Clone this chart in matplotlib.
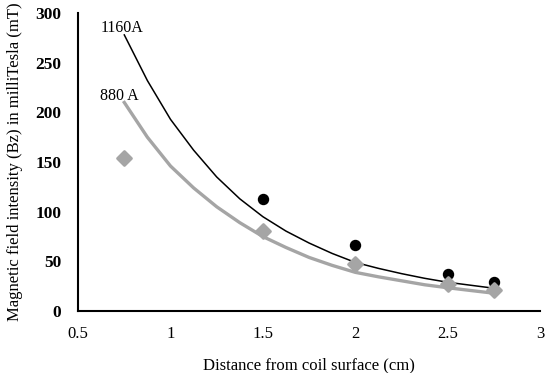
import matplotlib.pyplot as plt
from matplotlib.markers import MarkerStyle

# measured points (the 1160A point at 0.75 cm is hidden under the 880A one)
dist_1160 = [1.5, 2.0, 2.5, 2.75]
bz_1160 = [113, 67, 37, 29]
dist_880 = [0.75, 1.5, 2.0, 2.5, 2.75]
bz_880 = [154, 81, 47, 27, 21]

# trend curves
curve_x = [0.75, 0.875, 1.0, 1.125, 1.25, 1.375, 1.5, 1.625, 1.75,
           1.875, 2.0, 2.125, 2.25, 2.375, 2.5, 2.625, 2.75]
curve_1160 = [278, 232, 193, 162, 135, 113, 95, 80.5, 68.5,
              58, 49, 43, 37.7, 33, 29, 26, 23]
curve_880 = [210, 175, 146, 124, 105, 89, 75, 64, 54,
             46, 39, 34.5, 30.5, 26.5, 23.5, 20.7, 18]

xticks = [0.5, 1, 1.5, 2, 2.5, 3]
xtick_labels = ['0.5', '1', '1.5', '2', '2.5', '3']
yticks = [0, 50, 100, 150, 200, 250, 300]

plt.rcParams['font.family'] = ['Liberation Serif', 'DejaVu Serif']

fig = plt.figure(figsize=(5.5, 3.73), dpi=100)
ax = fig.add_axes([0.142, 0.166, 0.84, 0.799])

grey = '#A5A5A5'

ax.plot(curve_x, curve_880, color=grey, lw=2.4, zorder=2)
ax.plot(curve_x, curve_1160, color='black', lw=1.1, zorder=3)

ax.plot(dist_1160, bz_1160, ls='none', marker='o', markersize=7.2,
        color='black', zorder=4)
ax.plot(dist_880, bz_880, ls='none', marker=MarkerStyle('D', joinstyle='round'),
        markersize=6.8, markeredgewidth=2, color=grey, zorder=5)

ax.text(0.62, 281, '1160A', fontsize=11.5, ha='left', va='baseline')
ax.text(0.62, 212, '880 A', fontsize=11.5, ha='left', va='baseline')

ax.set_xlim(0.5, 3)
ax.set_ylim(0, 300)
ax.set_xticks(xticks)
ax.set_xticklabels(xtick_labels, fontsize=12)
ax.set_yticks(yticks)
ax.set_yticklabels([str(v) for v in yticks], fontsize=12.5, fontweight='bold')
ax.tick_params(axis='x', length=0, pad=11)
ax.tick_params(axis='y', length=0, pad=12)

for side in ['top', 'right']:
    ax.spines[side].set_visible(False)
for side in ['left', 'bottom']:
    ax.spines[side].set_linewidth(1.5)

ax.set_xlabel('Distance from coil surface (cm)', fontsize=12, labelpad=11)
ax.set_ylabel('Magnetic field intensity (Bz) in milliTesla (mT)', fontsize=12, labelpad=9)

plt.savefig('out.png')
